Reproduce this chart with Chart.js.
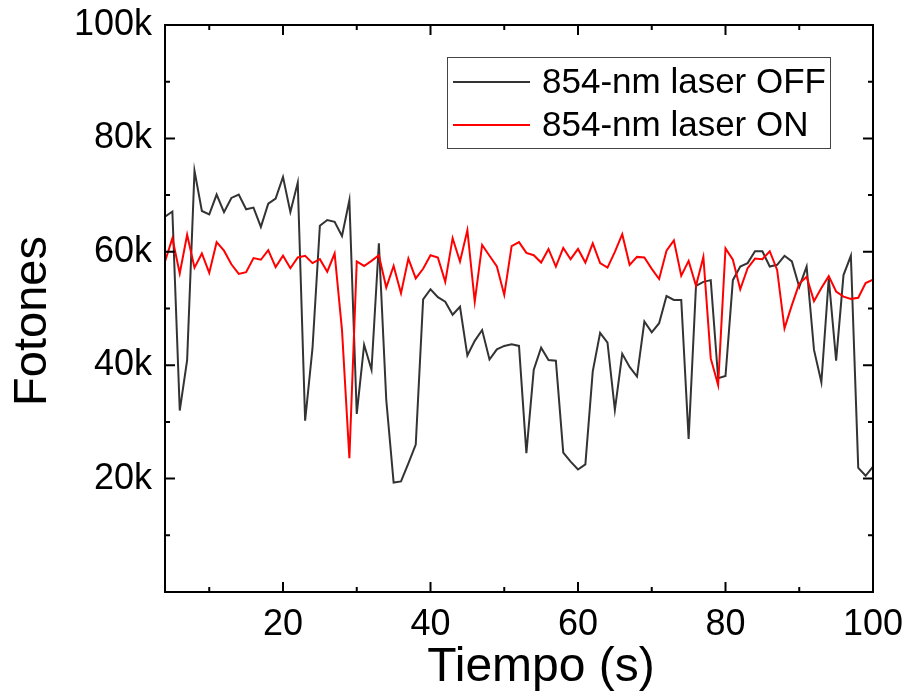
<!DOCTYPE html>
<html>
<head>
<meta charset="utf-8">
<script src="https://cdn.jsdelivr.net/npm/chart.js@4.4.0/dist/chart.umd.min.js"></script>
<style>
  html, body { margin: 0; padding: 0; background: #fff; }
  #chart { display: block; }
</style>
</head>
<body>
<canvas id="chart" width="906" height="691"></canvas>
<script>
// Photon counts (thousands) per second
const times = [4, 5, 6, 7, 8, 9, 10, 11, 12, 13, 14, 15, 16, 17, 18, 19, 20, 21, 22, 23, 24, 25, 26, 27, 28, 29, 30,
    31, 32, 33, 34, 35, 36, 37, 38, 39, 40, 41, 42, 43, 44, 45, 46, 47, 48, 49, 50, 51, 52, 53, 54, 55, 56, 57, 58, 59, 60,
    61, 62, 63, 64, 65, 66, 67, 68, 69, 70, 71, 72, 73, 74, 75, 76, 77, 78, 79, 80, 81, 82, 83, 84, 85, 86, 87, 88, 89, 90,
    91, 92, 93, 94, 95, 96, 97, 98, 99, 100];

const photonsOffK = [66.2, 67.1, 32.0, 40.9, 74.3, 67.2, 66.6, 70.1, 67.0, 69.5, 70.1, 67.5, 67.8, 64.4, 68.5, 69.4, 73.2,
    67.0, 72.2, 30.2, 43.0, 64.6, 65.6, 65.3, 62.8, 69.1, 31.4, 43.6, 39.2, 61.5, 33.9, 19.3, 19.5, 22.7, 26.0, 51.6, 53.4,
    52.0, 51.2, 48.9, 50.3, 41.7, 44.3, 46.2, 41.0, 42.8, 43.4, 43.7, 43.4, 24.5, 39.2, 43.1, 40.9, 40.8, 24.6, 23.0, 21.6,
    22.5, 38.9, 45.7, 44.0, 32.1, 42.0, 39.7, 38.0, 47.7, 45.8, 47.4, 52.2, 51.5, 51.5, 27.0, 54.0, 54.7, 55.0, 37.7, 38.1,
    55.0, 57.4, 58.0, 60.1, 60.1, 57.4, 57.7, 59.3, 58.3, 53.8, 57.4, 42.7, 37.0, 55.3, 40.8, 55.9, 59.3, 21.9, 20.5, 22.1];

const photonsOnK = [58.3, 62.4, 56.2, 63.0, 57.2, 59.7, 56.3, 61.7, 60.2, 57.8, 56.1, 56.4, 58.9, 58.6, 60.3, 57.3, 59.3,
    57.1, 59.0, 59.3, 58.0, 58.7, 56.5, 59.7, 46.2, 23.6, 58.3, 57.5, 58.4, 59.4, 53.7, 57.5, 52.7, 58.8, 55.3, 57.0, 59.4,
    59.0, 54.7, 62.4, 58.3, 63.8, 51.2, 61.2, 59.3, 57.4, 52.4, 61.0, 61.7, 59.8, 59.4, 58.1, 60.5, 57.4, 60.7, 58.7, 60.5,
    58.1, 61.5, 58.0, 57.2, 60.0, 63.1, 57.7, 59.1, 59.0, 57.0, 55.2, 60.2, 62.0, 55.8, 58.4, 54.0, 59.1, 41.2, 36.5, 60.6,
    58.6, 53.4, 57.1, 58.8, 58.7, 60.1, 56.8, 46.5, 50.6, 54.4, 55.6, 51.3, 53.6, 55.7, 53.0, 52.1, 51.7, 51.9, 54.5, 55.1];

const xMajor = [20, 40, 60, 80, 100];
const xMinor = [10, 30, 50, 70, 90];
const yMajor = [0, 20, 40, 60, 80, 100];
const yMinor = [10, 30, 50, 70, 90];

const FONT = "'Liberation Sans', Arial, sans-serif";

// Box frame with inward ticks on all four sides
const framePlugin = {
    id: 'frame',
    afterDraw(chart) {
        const { ctx, chartArea: a, scales: { x, y } } = chart;
        ctx.save();
        ctx.strokeStyle = '#000';
        ctx.lineWidth = 2;
        ctx.strokeRect(a.left, a.top, a.right - a.left, a.bottom - a.top);
        ctx.beginPath();
        const tickX = (vals, len) => {
            vals.forEach(v => {
                const px = x.getPixelForValue(v);
                if (px > a.left + 1 && px < a.right - 1) {
                    ctx.moveTo(px, a.bottom); ctx.lineTo(px, a.bottom - len);
                    ctx.moveTo(px, a.top); ctx.lineTo(px, a.top + len);
                }
            });
        };
        const tickY = (vals, len) => {
            vals.forEach(v => {
                const py = y.getPixelForValue(v);
                if (py > a.top + 1 && py < a.bottom - 1) {
                    ctx.moveTo(a.left, py); ctx.lineTo(a.left + len, py);
                    ctx.moveTo(a.right, py); ctx.lineTo(a.right - len, py);
                }
            });
        };
        tickX(xMajor, 10); tickX(xMinor, 5);
        tickY(yMajor, 10); tickY(yMinor, 5);
        ctx.stroke();

        // axis titles
        ctx.fillStyle = '#000';
        ctx.font = '48px ' + FONT;
        ctx.textAlign = 'center';
        ctx.textBaseline = 'alphabetic';
        ctx.fillText('Tiempo (s)', 541, 681);
        ctx.font = '47px ' + FONT;
        ctx.translate(46, 321);
        ctx.rotate(-Math.PI / 2);
        ctx.fillText('Fotones', 0, 0);
        ctx.restore();
    }
};

// Legend box inside the plot
const legendPlugin = {
    id: 'innerLegend',
    afterDraw(chart) {
        const { ctx } = chart;
        ctx.save();
        ctx.strokeStyle = '#444';
        ctx.lineWidth = 1;
        ctx.strokeRect(447.5, 57.5, 383, 91);
        ctx.font = '35px ' + FONT;
        ctx.textBaseline = 'middle';
        ctx.textAlign = 'left';
        chart.data.datasets.forEach((ds, i) => {
            const yy = 82 + i * 43;
            ctx.strokeStyle = ds.borderColor;
            ctx.lineWidth = 2;
            ctx.beginPath();
            ctx.moveTo(453, yy); ctx.lineTo(530, yy);
            ctx.stroke();
            ctx.fillStyle = '#000';
            ctx.fillText(ds.label, 542, yy + 1);
        });
        ctx.restore();
    }
};

new Chart(document.getElementById('chart'), {
    type: 'line',
    data: {
        datasets: [
            { label: '854-nm laser OFF', data: times.map((t, i) => ({ x: t, y: photonsOffK[i] })),
              borderColor: '#333333', borderWidth: 2, pointRadius: 0, tension: 0, order: 1 },
            { label: '854-nm laser ON', data: times.map((t, i) => ({ x: t, y: photonsOnK[i] })),
              borderColor: '#ff0000', borderWidth: 2, pointRadius: 0, tension: 0, order: 0 },
        ]
    },
    options: {
        responsive: false,
        animation: false,
        devicePixelRatio: 1,
        layout: { padding: { top: 25, right: 33, left: 0, bottom: 0 } },
        plugins: { legend: { display: false }, tooltip: { enabled: false } },
        scales: {
            x: {
                type: 'linear', min: 4, max: 100,
                grid: { display: false, drawTicks: false },
                border: { display: false },
                afterBuildTicks: s => { s.ticks = xMajor.map(v => ({ value: v })); },
                afterFit: s => { s.height = 99; s.paddingLeft = 0; s.paddingRight = 0; },
                ticks: { color: '#000', font: { family: FONT, size: 36 }, padding: 11, maxRotation: 0 }
            },
            y: {
                min: 0, max: 100,
                grid: { display: false, drawTicks: false },
                border: { display: false },
                afterBuildTicks: s => { s.ticks = yMajor.map(v => ({ value: v })); },
                afterFit: s => { s.width = 165; s.paddingTop = 0; s.paddingBottom = 0; },
                ticks: { color: '#000', font: { family: FONT, size: 36 }, padding: 13,
                         callback: v => v === 0 ? '' : v + 'k' }
            }
        }
    },
    plugins: [framePlugin, legendPlugin]
});
</script>
</body>
</html>
